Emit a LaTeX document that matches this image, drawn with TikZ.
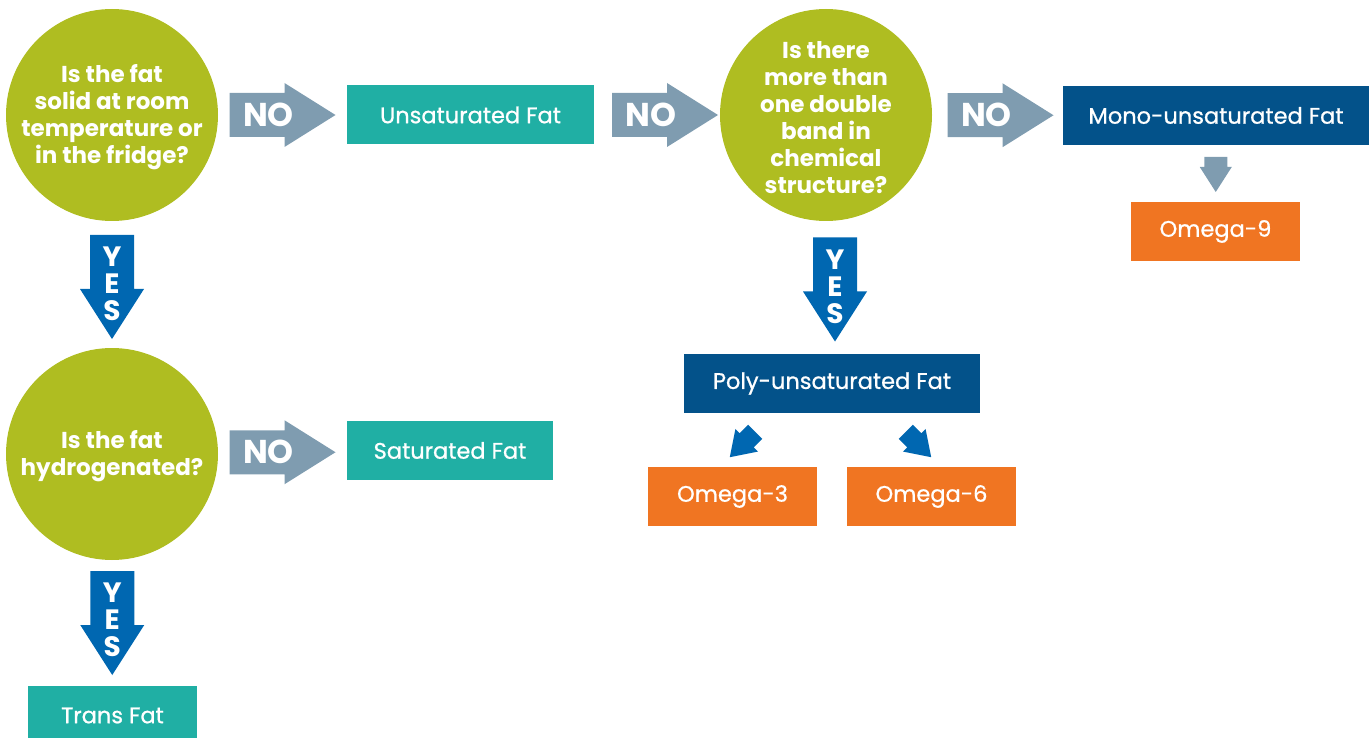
\documentclass[tikz,border=0pt]{standalone}
\usepackage{fontspec}
\setmainfont{Poppins}
\newfontfamily\boxfont{Poppins}[FakeBold=0.8]
\usetikzlibrary{calc}
\definecolor{qgreen}{HTML}{AFBD21}
\definecolor{nogray}{HTML}{7F9CB0}
\definecolor{yesblue}{HTML}{0067B1}
\definecolor{fatteal}{HTML}{20AFA4}
\definecolor{fatnavy}{HTML}{03528A}
\definecolor{omorange}{HTML}{F07522}
\newcommand\qtop{\rule{0pt}{23pt}}
\tikzset{
  question/.style={circle, fill=qgreen, minimum size=212pt, inner sep=0pt, align=center, text=white, font=\bfseries\fontsize{23}{27}\selectfont},
  fatbox/.style={rectangle, inner sep=0pt, text=white, minimum height=59pt, font=\boxfont\fontsize{22.5}{25}\selectfont},
  notext/.style={text=white, inner sep=0pt, font=\bfseries\fontsize{33}{33}\selectfont},
  yestext/.style={text=white, inner sep=0pt, align=center, font=\bfseries\fontsize{28}{27}\selectfont},
  noarrow/.pic={
    \fill[nogray] (-53,-22) -- (2,-22) -- (2,-32) -- (53,0) -- (2,32) -- (2,22) -- (-53,22) -- cycle;
    \node[notext] (-t) at (-14,0) {NO};
  },
  yesarrow/.pic={
    \fill[yesblue] (-22,-52) -- (22,-52) -- (22,2) -- (32,2) -- (0,52) -- (-32,2) -- (-22,2) -- cycle;
    \node[yestext] (-t) at (0,-3) {Y\\E\\S};
  },
  downarrow/.pic={
    \fill[nogray] (-11.5,-17.5) -- (11.5,-17.5) -- (11.5,-7.5) -- (16,-7.5) -- (0,17.5) -- (-16,-7.5) -- (-11.5,-7.5) -- cycle;
  },
  tiparrow/.pic={
    \fill[yesblue] (-18,-10) -- (-6,-10) -- (-6,-16) -- (18,0) -- (-6,16) -- (-6,10) -- (-18,10) -- cycle;
  }
}
\begin{document}
\begin{tikzpicture}[x=1pt,y=-1pt]
\useasboundingbox (0,0) rectangle (1369,738);
% questions
\node[question] (q1) at (112,115) {\qtop Is the fat\\solid at room\\temperature or\\in the fridge?};
\node[question] (q2) at (112,454) {\qtop Is the fat\\hydrogenated?};
\node[question] (q3) at (826,115) {\qtop Is there\\more than\\one double\\band in\\chemical\\structure?};
% fat types
\node[fatbox, fill=fatteal, minimum width=247pt] (unsat) at (470.5,115) {Unsaturated Fat};
\node[fatbox, fill=fatteal, minimum width=206pt] (sat) at (450,450.5) {Saturated Fat};
\node[fatbox, fill=fatteal, minimum width=169pt] (trans) at (112.5,715.5) {Trans Fat};
\node[fatbox, fill=fatnavy, minimum width=306pt] (mono) at (1216,115.5) {Mono-unsaturated Fat};
\node[fatbox, fill=fatnavy, minimum width=296pt] (poly) at (832,383.5) {Poly-unsaturated Fat};
\node[fatbox, fill=omorange, minimum width=169pt] (om9) at (1215.5,231.5) {Omega-9};
\node[fatbox, fill=omorange, minimum width=169pt] (om3) at (732.5,496.5) {Omega-3};
\node[fatbox, fill=omorange, minimum width=169pt] (om6) at (931.5,496.5) {Omega-6};
% arrows
\pic (no1) at ($(q1.east)!0.5!(unsat.west)$) {noarrow};
\pic (no2) at ($(unsat.east)!0.5!(q3.west)+(8,0)$) {noarrow};
\pic (no3) at ($(q3.east)!0.5!(mono.west)+(3,0)$) {noarrow};
\pic (no4) at ($(q2.east)!0.5!(sat.west)$) {noarrow};
\pic (yes1) at ($(q1.south)!0.5!(q2.north)+(0,2.5)$) {yesarrow};
\pic (yes2) at ($(q3.south)!0.5!(poly.north)+(6,2)$) {yesarrow};
\pic (yes3) at ($(q2.south)!0.5!(trans.north)$) {yesarrow};
\pic at ($(mono.south)!0.5!(om9.north)+(0,1)$) {downarrow};
\pic[rotate=225] at (742.5,444.5) {tiparrow};
\pic[rotate=-45] at (918.5,444.5) {tiparrow};
\end{tikzpicture}
\end{document}
